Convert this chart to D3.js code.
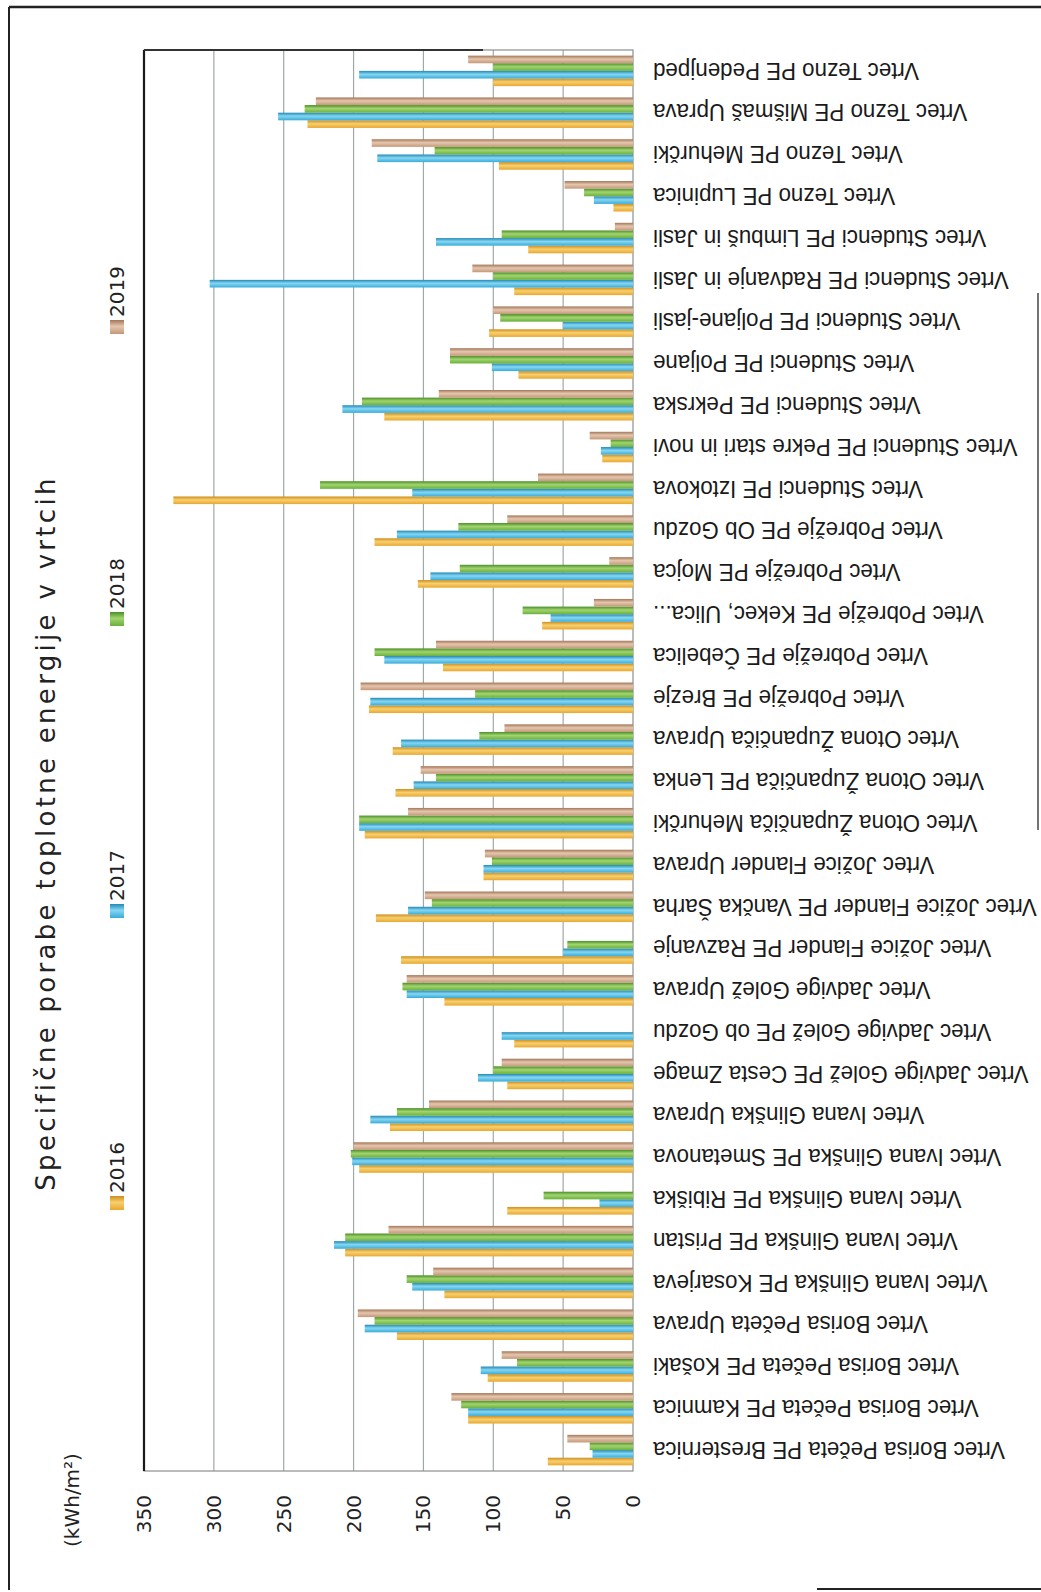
<!DOCTYPE html>
<html>
<head>
<meta charset="utf-8">
<script src="https://cdn.jsdelivr.net/npm/d3@7"></script>
<style>
  body { margin: 0; background: #fff; }
  svg { display: block; }
  .cat-label { font-family: "Liberation Sans", Arial, sans-serif; font-size: 24px; fill: #1a1a1a; }
  .tick-label { font-family: "DejaVu Sans", Verdana, sans-serif; font-size: 20px; fill: #222; }
  .title { font-family: "DejaVu Sans", Verdana, sans-serif; font-size: 26px; fill: #222; letter-spacing: 3.3px; }
  .legend-label { font-family: "DejaVu Sans", Verdana, sans-serif; font-size: 20px; fill: #222; }
</style>
</head>
<body>
<svg id="chart" width="1041" height="1592"></svg>
<script>
const categories = [
  'Vrtec Borisa Pečeta PE Bresternica',
  'Vrtec Borisa Pečeta PE Kamnica',
  'Vrtec Borisa Pečeta PE Košaki',
  'Vrtec Borisa Pečeta Uprava',
  'Vrtec Ivana Glinška PE Kosarjeva',
  'Vrtec Ivana Glinška PE Pristan',
  'Vrtec Ivana Glinška PE Ribiška',
  'Vrtec Ivana Glinška PE Smetanova',
  'Vrtec Ivana Glinška Uprava',
  'Vrtec Jadvige Golež PE Cesta Zmage',
  'Vrtec Jadvige Golež PE ob Gozdu',
  'Vrtec Jadvige Golež Uprava',
  'Vrtec Jožice Flander PE Razvanje',
  'Vrtec Jožice Flander PE Vančka Šarha',
  'Vrtec Jožice Flander Uprava',
  'Vrtec Otona Župančiča Mehurčki',
  'Vrtec Otona Župančiča PE Lenka',
  'Vrtec Otona Župančiča Uprava',
  'Vrtec Pobrežje PE Brezje',
  'Vrtec Pobrežje PE Čebelica',
  'Vrtec Pobrežje PE Kekec, Ulica...',
  'Vrtec Pobrežje PE Mojca',
  'Vrtec Pobrežje PE Ob Gozdu',
  'Vrtec Studenci PE Iztokova',
  'Vrtec Studenci PE Pekre stari in novi',
  'Vrtec Studenci PE Pekrska',
  'Vrtec Studenci PE Poljane',
  'Vrtec Studenci PE Poljane-jasli',
  'Vrtec Studenci PE Radvanje in Jasli',
  'Vrtec Studenci PE Limbuš in Jasli',
  'Vrtec Tezno PE Lupinica',
  'Vrtec Tezno PE Mehurčki',
  'Vrtec Tezno PE Mišmaš Uprava',
  'Vrtec Tezno PE Pedenjped'
];

const years = ['2016', '2017', '2018', '2019'];

const values2016 = [61, 118, 104, 169, 135, 206, 90, 196, 174, 90, 85, 135, 166, 184, 107, 192, 170, 172, 189, 136, 65, 154, 185, 329, 22, 178, 82, 103, 85, 75, 14, 96, 233, 100];
const values2017 = [29, 118, 109, 192, 158, 214, 24, 201, 188, 111, 94, 162, 50, 161, 107, 196, 157, 166, 188, 178, 59, 145, 169, 158, 23, 208, 101, 50, 303, 141, 28, 183, 254, 196];
const values2018 = [31, 123, 83, 185, 162, 206, 64, 202, 169, 100, 0, 165, 47, 144, 101, 196, 141, 110, 113, 185, 79, 124, 125, 224, 16, 194, 131, 95, 100, 94, 35, 142, 235, 100];
const values2019 = [47, 130, 94, 197, 143, 175, 0, 200, 146, 94, 0, 162, 0, 149, 106, 161, 152, 92, 195, 141, 28, 17, 90, 68, 31, 139, 131, 100, 115, 13, 49, 187, 227, 118];

const valueTicks = [0, 50, 100, 150, 200, 250, 300, 350];

const seriesValues = [values2016, values2017, values2018, values2019];

// base, light, dark
const colors = {
  '2016': ['#e8a733', '#f7d06e', '#cf8d1d'],
  '2017': ['#38acd9', '#86d6f2', '#2189b8'],
  '2018': ['#69b03d', '#a2d46f', '#4a8f28'],
  '2019': ['#c49879', '#e4c6ae', '#a47658']
};

const svg = d3.select('#chart');

// plot area (chart is turned on its side: value axis at the bottom, 0 on the right)
const plot = { left: 144, right: 633, top: 50, bottom: 1471 };

const xScale = d3.scaleLinear()
  .domain([0, 350])
  .range([plot.right, plot.left]);

const yBand = d3.scaleBand()
  .domain(categories)
  .range([plot.bottom, plot.top])
  .paddingInner(0.27)
  .paddingOuter(0.135);

const ySub = d3.scaleBand()
  .domain(years)
  .range([yBand.bandwidth(), 0]);

// gradients
const defs = svg.append('defs');
years.forEach(y => {
  const gr = defs.append('linearGradient')
    .attr('id', 'grad' + y)
    .attr('x1', 0).attr('y1', 0).attr('x2', 0).attr('y2', 1);
  gr.append('stop').attr('offset', '0%').attr('stop-color', colors[y][2]);
  gr.append('stop').attr('offset', '45%').attr('stop-color', colors[y][1]);
  gr.append('stop').attr('offset', '100%').attr('stop-color', colors[y][0]);
});

// outer frame (scan edges)
svg.append('line').attr('x1', 9).attr('y1', 7).attr('x2', 1041).attr('y2', 7)
  .attr('stroke', '#222').attr('stroke-width', 2.5);
svg.append('line').attr('x1', 9).attr('y1', 7).attr('x2', 9).attr('y2', 1590)
  .attr('stroke', '#222').attr('stroke-width', 2);
svg.append('line').attr('x1', 1038).attr('y1', 293).attr('x2', 1038).attr('y2', 830)
  .attr('stroke', '#444').attr('stroke-width', 1.5);
svg.append('line').attr('x1', 817).attr('y1', 1589).attr('x2', 1041).attr('y2', 1589)
  .attr('stroke', '#222').attr('stroke-width', 2);

// gridlines
svg.append('g')
  .selectAll('line')
  .data(valueTicks.filter(d => d > 0 && d < 350))
  .join('line')
    .attr('x1', d => xScale(d)).attr('x2', d => xScale(d))
    .attr('y1', plot.top).attr('y2', plot.bottom)
    .attr('stroke', '#9fa9a6')
    .attr('stroke-width', 1.2);

// plot border
svg.append('rect')
  .attr('x', plot.left).attr('y', plot.top)
  .attr('width', plot.right - plot.left).attr('height', plot.bottom - plot.top)
  .attr('fill', 'none').attr('stroke', '#8a8f8d').attr('stroke-width', 1.2);
svg.append('line')
  .attr('x1', plot.left).attr('x2', plot.left)
  .attr('y1', plot.top).attr('y2', plot.bottom)
  .attr('stroke', '#1a1a1a').attr('stroke-width', 2.2);
svg.append('line')
  .attr('x1', plot.left).attr('x2', plot.right - 150)
  .attr('y1', plot.top).attr('y2', plot.top)
  .attr('stroke', '#333').attr('stroke-width', 1.8);

// bars
const groups = svg.append('g')
  .selectAll('g')
  .data(categories)
  .join('g')
    .attr('transform', d => `translate(0,${yBand(d)})`);

groups.selectAll('rect')
  .data((d, i) => years.map((y, j) => ({ year: y, value: seriesValues[j][i] })))
  .join('rect')
    .filter(d => d.value > 0)
    .attr('x', d => xScale(d.value))
    .attr('y', d => ySub(d.year))
    .attr('width', d => xScale(0) - xScale(d.value))
    .attr('height', ySub.bandwidth())
    .attr('fill', d => `url(#grad${d.year})`);

// category labels (upside down, narrow like the original font)
const labelX = plot.right + 20;
const labels = svg.append('g')
  .selectAll('g')
  .data(categories)
  .join('g');
labels.append('text')
    .attr('class', 'cat-label')
    .attr('x', 0).attr('y', 0)
    .attr('text-anchor', 'end')
    .attr('dominant-baseline', 'central')
    .text(d => d);
// squeeze so the labels are about as wide as in the scan
const firstW = labels.select('text').node().getComputedTextLength();
const squeeze = 352 / firstW;
labels.attr('transform', d =>
  `translate(${labelX},${yBand(d) + yBand.bandwidth() / 2}) rotate(180) scale(${squeeze},1)`);

// value tick labels
const tickY = 1495;
svg.append('g')
  .selectAll('text')
  .data(valueTicks)
  .join('text')
    .attr('class', 'tick-label')
    .attr('x', d => xScale(d))
    .attr('y', tickY)
    .attr('transform', d => `rotate(-90,${xScale(d)},${tickY})`)
    .attr('text-anchor', 'end')
    .attr('dominant-baseline', 'central')
    .text(d => d);

// unit
svg.append('text')
  .attr('class', 'tick-label')
  .attr('x', 72).attr('y', 1500)
  .attr('transform', 'rotate(-90,72,1500)')
  .attr('text-anchor', 'middle')
  .attr('dominant-baseline', 'central')
  .text('(kWh/m²)');

// title
svg.append('text')
  .attr('class', 'title')
  .attr('x', 46).attr('y', 833)
  .attr('transform', 'rotate(-90,46,833)')
  .attr('text-anchor', 'middle')
  .attr('dominant-baseline', 'central')
  .text('Specifične porabe toplotne energije v vrtcih');

// legend
const legendY = d3.scalePoint().domain(years).range([1203, 327]);
const legendX = 117;
const lg = svg.append('g')
  .selectAll('g')
  .data(years)
  .join('g');
lg.append('rect')
  .attr('x', legendX - 7).attr('y', d => legendY(d) - 7)
  .attr('width', 14).attr('height', 14)
  .attr('fill', d => `url(#grad${d})`);
lg.append('text')
  .attr('class', 'legend-label')
  .attr('x', legendX).attr('y', d => legendY(d) - 10)
  .attr('transform', d => `rotate(-90,${legendX},${legendY(d) - 10})`)
  .attr('text-anchor', 'start')
  .attr('dominant-baseline', 'central')
  .text(d => d);
</script>
</body>
</html>
